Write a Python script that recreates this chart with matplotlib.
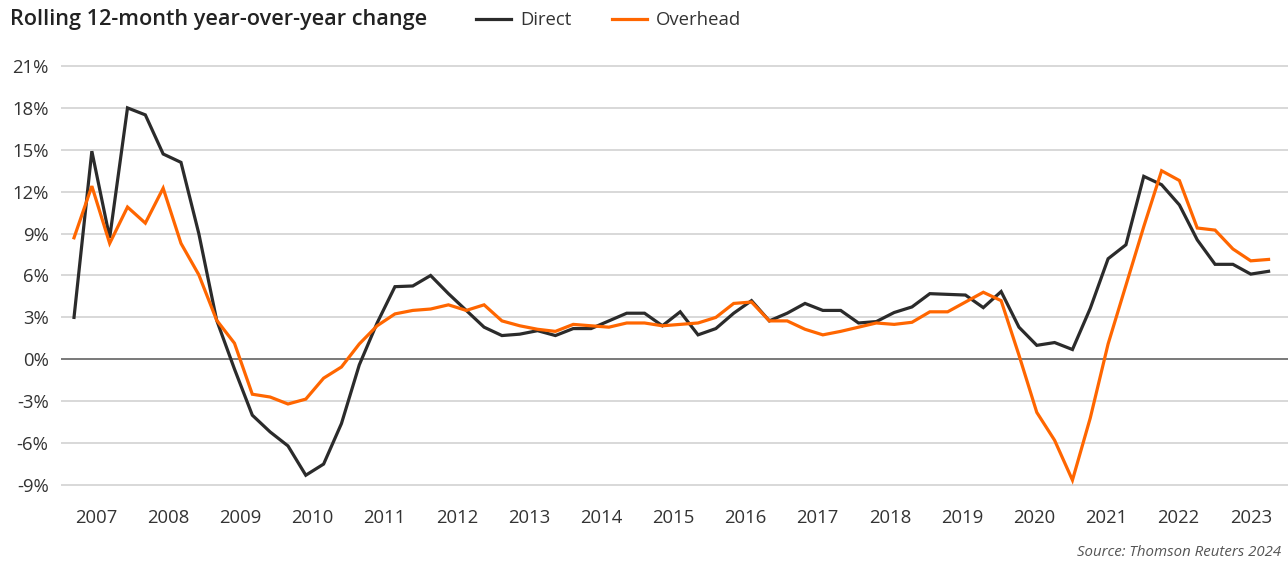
import numpy as np
import matplotlib.pyplot as plt
from matplotlib.lines import Line2D

# quarterly values, 2007 Q1 .. 2023 Q4 (percent)
direct = [3.0, 14.9, 8.7, 18.0, 17.5, 14.7, 14.1, 9.0,
          2.8, -0.7, -4.0, -5.2, -6.2, -8.3, -7.5, -4.6,
          -0.4, 2.6, 5.2, 5.25, 6.0, 4.7, 3.5, 2.3,
          1.7, 1.8, 2.05, 1.7, 2.2, 2.2, 2.75, 3.3,
          3.3, 2.4, 3.4, 1.75, 2.2, 3.3, 4.2, 2.75,
          3.3, 4.0, 3.5, 3.5, 2.6, 2.7, 3.35, 3.75,
          4.7, 4.65, 4.6, 3.7, 4.85, 2.3, 1.0, 1.2,
          0.7, 3.65, 7.2, 8.2, 13.1, 12.5, 11.05, 8.55,
          6.8, 6.8, 6.1, 6.3]
overhead = [8.7, 12.4, 8.3, 10.9, 9.75, 12.25, 8.3, 6.05,
            2.8, 1.15, -2.5, -2.7, -3.2, -2.85, -1.35, -0.55,
            1.1, 2.4, 3.25, 3.5, 3.6, 3.9, 3.5, 3.9,
            2.75, 2.4, 2.15, 2.0, 2.5, 2.4, 2.3, 2.6,
            2.6, 2.4, 2.5, 2.6, 3.0, 4.0, 4.1, 2.75,
            2.75, 2.15, 1.75, 2.0, 2.3, 2.6, 2.5, 2.65,
            3.4, 3.4, 4.1, 4.8, 4.2, 0.3, -3.8, -5.8,
            -8.65, -4.2, 1.1, 5.3, 9.5, 13.5, 12.8, 9.4,
            9.25, 7.9, 7.05, 7.15]
years = [str(y) for y in range(2007, 2024)]
yticks = list(range(-9, 22, 3))

DARK = '#2b2b2b'
ORANGE = '#ff6600'
TXT = '#333333'

plt.rcParams['font.family'] = ['Open Sans', 'DejaVu Sans']

fig = plt.figure(figsize=(12.88, 5.61), dpi=100)
ax = fig.add_axes([61/1288, 1 - 489.2/561, 1 - 61/1288, (489.2 - 61.8)/561])

x = np.arange(len(direct))
ax.plot(x, direct, color=DARK, lw=2.3, solid_joinstyle='miter', zorder=3)
ax.plot(x, overhead, color=ORANGE, lw=2.3, solid_joinstyle='miter', zorder=4)

ax.set_ylim(-9.3, 21.3)
ax.set_xlim(-0.73, 68.09)
for v in yticks:
    if v == 0:
        ax.axhline(0, color='#555555', lw=1.1, zorder=2)
    else:
        ax.axhline(v, color='#d6d6d6', lw=1.3, zorder=1)

ax.set_yticks(yticks)
ax.set_yticklabels(['%d%%' % v for v in yticks])
ax.set_xticks(1.23 + 4.048 * np.arange(len(years)))
ax.set_xticklabels(years)
ax.tick_params(length=0, labelsize=13.3, colors=TXT)
ax.tick_params(axis='y', pad=9)
ax.tick_params(axis='x', pad=14)
for s in ax.spines.values():
    s.set_visible(False)

fig.text(10/1288, 1 - 20/561, 'Rolling 12-month year-over-year change',
         fontsize=15.6, fontweight='semibold', color='#222222', va='center')

handles = [Line2D([], [], color=DARK, lw=2.3), Line2D([], [], color=ORANGE, lw=2.3)]
fig.legend(handles, ['Direct', 'Overhead'], loc='center left',
           bbox_to_anchor=(459/1288, 1 - 20/561), ncol=2, frameon=False,
           fontsize=13.3, handlelength=1.9, handletextpad=0.5, columnspacing=2.2,
           labelcolor=TXT)

fig.text(1281/1288, 1 - 552/561, 'Source: Thomson Reuters 2024', fontsize=10.8,
         style='italic', color='#555555', ha='right', va='center')

fig.savefig('out.png', dpi=100)
